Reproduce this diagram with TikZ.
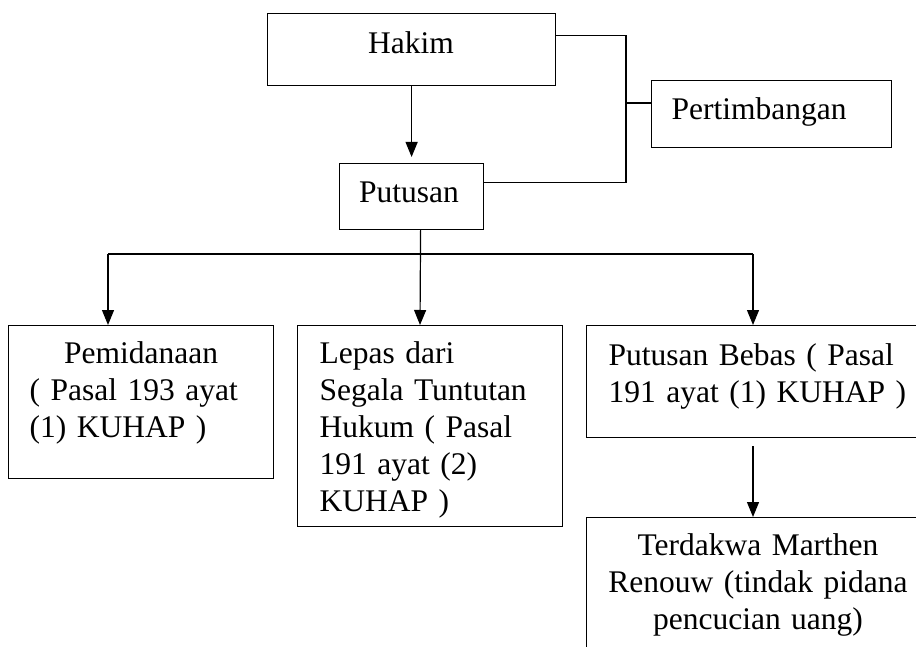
\documentclass[tikz,border=0pt]{standalone}
\usepackage{fontspec}
\setmainfont{Liberation Serif}
\usetikzlibrary{arrows.meta}

\begin{document}
\begin{tikzpicture}[x=1pt,y=-1pt,line width=1.2pt,
  kotak/.style={draw,inner sep=0,anchor=north west},
  teks/.style={font=\fontsize{31.5}{37}\selectfont,inner sep=0,align=left,anchor=base west},
  garis/.style={line width=1.2pt},
  panah/.style={line width=1.2pt,-{Triangle[length=15pt,width=12pt]}}]
\useasboundingbox (0,0) rectangle (916,647);
\clip (0,0) rectangle (916,647);
% kotak atas
\node[kotak,minimum width=288,minimum height=72] (hakim) at (267,13) {};
\node[kotak,minimum width=240,minimum height=67] (timbang) at (651,80) {};
\node[kotak,minimum width=144,minimum height=66] (putusan) at (339,163) {};
\node[teks,anchor=base] (thakim) at (411,54) {Hakim};
\node[teks] (ttimbang) at (671,120) {Pertimbangan};
\node[teks,anchor=base] (tputusan) at (409,203) {Putusan};
% kotak bawah
\node[kotak,minimum width=265,minimum height=153] (pidana) at (8,325) {};
\node[kotak,minimum width=265,minimum height=201] (lepas) at (297,325) {};
\node[kotak,minimum width=348,minimum height=112] (bebas) at (586,325) {};
\node[kotak,minimum width=348,minimum height=160] (terdakwa) at (586,517) {};
\node[teks,text width=223] (tpidana) at (29,363) {\makebox[\hsize]{Pemidanaan}\\( Pasal 193 ayat\\(1) KUHAP )};
\node[teks,text width=230] (tlepas) at (319,363) {Lepas dari\\Segala Tuntutan\\Hukum ( Pasal\\191 ayat (2)\\KUHAP )};
\node[teks,text width=310] (tbebas) at (608,365) {Putusan Bebas ( Pasal\\191 ayat (1) KUHAP )};
\node[teks,text width=310,align=center,anchor=base] (tterdakwa) at (758,555) {Terdakwa Marthen\\Renouw (tindak pidana\\pencucian uang)};
% garis penghubung
\coordinate (cabang) at (626,103);
\coordinate (kiri) at (108,254);
\coordinate (tengah) at (420,254);
\coordinate (kanan) at (753,254);
\draw[garis] ([yshift=14]hakim.east) -| ([yshift=14]putusan.east -| cabang) -- ([yshift=14]putusan.east);
\draw[garis] (cabang) -- (timbang.west |- cabang);
\draw[panah,shorten >=6] (hakim.south) -- (putusan.north);
\draw[garis] (kiri) -- (kanan);
\draw[panah] (kiri) -- (kiri |- pidana.north);
\draw[panah] ([xshift=9]putusan.south) -- (tengah |- lepas.north);
\draw[panah] (kanan) -- (kanan |- bebas.north);
\draw[panah,shorten <=8] (kanan |- bebas.south) -- (kanan |- terdakwa.north);
\end{tikzpicture}
\end{document}
